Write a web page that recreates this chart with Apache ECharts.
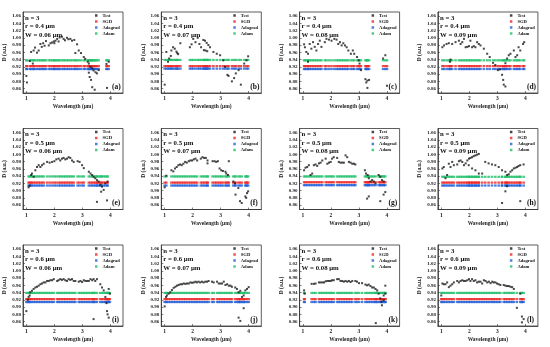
<!DOCTYPE html>
<html><head><meta charset="utf-8">
<script src="https://cdn.jsdelivr.net/npm/echarts@6/dist/echarts.min.js"></script>
<style>html,body{margin:0;padding:0;background:#fff}#c{width:550px;height:347px}</style>
</head><body><div id="c"></div><script>
const panelLabels = ['(a)','(b)','(c)','(d)','(e)','(f)','(g)','(h)','(i)','(j)','(k)','(l)'];
const radii = ['0.4','0.4','0.4','0.4','0.5','0.5','0.5','0.5','0.6','0.6','0.6','0.6'];
const widths = ['0.06','0.07','0.08','0.09','0.06','0.07','0.08','0.09','0.06','0.07','0.08','0.09'];
const yTicks = [0.86,0.88,0.90,0.92,0.94,0.96,0.98,1.00,1.02,1.04,1.06];
const xTicks = [1,2,3,4];
const seriesNames = ['Test','SGD','Adagrad','Adam'];
const sgdLevels = [0.922,0.922,0.922,0.922,0.922,0.922,0.923,0.922,0.922,0.922,0.922,0.922];
const adagradLevels = [0.914,0.915,0.914,0.914,0.914,0.914,0.915,0.914,0.914,0.914,0.914,0.914];
const adamLevels = [0.938,0.939,0.938,0.938,0.939,0.939,0.939,0.938,0.939,0.939,0.939,0.939];

const testA = [[1.00,0.895],[1.02,0.877],[1.12,0.936],[1.17,0.961],[1.23,0.929],[1.26,0.965],[1.31,0.973],[1.38,0.959],[1.44,0.965],[1.50,0.983],[1.55,0.975],[1.60,0.985],[1.65,0.978],[1.70,0.991],[1.80,0.979],[1.86,0.985],[1.92,0.987],[1.98,0.990],[2.00,0.985],[2.04,0.992],[2.10,0.997],[2.15,0.990],[2.19,1.001],[2.27,1.003],[2.33,0.997],[2.38,0.993],[2.45,1.000],[2.50,0.996],[2.57,0.997],[2.63,0.992],[2.71,0.994],[2.81,0.982],[2.75,0.958],[2.87,0.965],[2.95,0.958],[3.05,0.947],[3.10,0.942],[3.19,0.934],[3.23,0.929],[3.29,0.920],[3.35,0.916],[3.23,0.904],[3.26,0.892],[3.31,0.884],[3.35,0.864],[3.40,0.910],[3.44,0.857],[3.47,0.905],[3.52,0.902],[3.58,0.911],[3.88,0.862],[3.86,0.928],[3.94,0.934]];
const testB = [[1.00,0.871],[1.06,0.961],[1.12,0.934],[1.16,0.943],[1.22,0.950],[1.24,0.965],[1.30,0.974],[1.36,0.970],[1.42,0.962],[1.45,0.958],[1.48,0.955],[1.56,0.985],[1.90,0.974],[1.96,0.982],[2.02,0.997],[2.10,0.988],[2.18,1.000],[2.24,0.983],[2.30,0.974],[2.38,0.994],[2.44,0.992],[2.50,0.986],[2.56,0.980],[2.62,0.974],[2.40,0.966],[2.46,0.965],[2.52,0.963],[2.74,0.961],[2.86,0.956],[2.98,0.952],[3.09,0.938],[3.16,0.920],[3.24,0.898],[3.28,0.895],[3.40,0.880],[3.48,0.889],[3.54,0.902],[3.64,0.911],[3.72,0.871],[3.84,0.929],[3.92,0.938],[3.98,0.949]];
const testC = [[1.04,0.982],[1.07,0.974],[1.12,0.961],[1.18,0.956],[1.18,0.934],[1.24,0.983],[1.30,0.970],[1.36,0.988],[1.42,0.975],[1.48,0.965],[1.54,0.983],[1.60,0.992],[1.66,0.975],[1.78,0.988],[1.84,0.997],[1.93,0.995],[2.02,0.992],[2.12,0.997],[2.20,0.995],[2.26,0.983],[2.32,0.988],[2.38,0.979],[2.44,0.985],[2.50,0.979],[2.56,0.974],[2.62,0.965],[2.71,0.956],[2.78,0.965],[2.83,0.956],[2.93,0.947],[2.99,0.938],[3.02,0.929],[3.07,0.911],[3.23,0.886],[3.26,0.877],[3.30,0.882],[3.36,0.884],[3.30,0.862],[3.86,0.943],[3.94,0.952],[4.00,0.868]];
const testD = [[1.04,0.974],[1.10,0.979],[1.19,0.983],[1.27,0.985],[1.33,0.940],[1.31,0.934],[1.39,0.983],[1.51,0.988],[1.63,0.992],[1.69,0.983],[1.75,0.988],[1.81,0.997],[1.87,0.974],[1.93,0.975],[1.99,0.977],[2.04,0.992],[2.10,0.974],[2.16,0.977],[2.22,0.974],[2.28,0.988],[2.34,0.983],[2.40,0.979],[2.52,0.970],[2.64,0.956],[2.73,0.947],[2.85,0.931],[2.93,0.925],[3.02,0.911],[3.09,0.913],[3.17,0.898],[3.21,0.884],[3.23,0.871],[3.29,0.866],[3.29,0.930],[3.35,0.943],[3.41,0.952],[3.47,0.956],[3.59,0.965],[3.65,0.947],[3.71,0.952],[3.76,0.974],[3.82,0.965],[3.92,0.983],[3.96,0.988]];
const testE = [[1.08,0.909],[1.12,0.914],[1.17,0.943],[1.20,0.947],[1.26,0.938],[1.32,0.956],[1.38,0.965],[1.44,0.970],[1.50,0.965],[1.56,0.970],[1.62,0.974],[1.74,0.979],[1.83,0.977],[1.92,0.979],[2.00,0.981],[2.07,0.986],[2.15,0.988],[2.21,0.983],[2.27,0.988],[2.33,0.990],[2.39,0.986],[2.45,0.988],[2.51,0.992],[2.57,0.990],[2.63,0.983],[2.69,0.979],[2.83,0.981],[2.90,0.979],[2.99,0.970],[3.05,0.962],[3.23,0.952],[3.29,0.947],[3.35,0.943],[3.40,0.938],[3.46,0.934],[3.52,0.929],[3.58,0.925],[3.64,0.916],[3.70,0.911],[3.76,0.902],[3.67,0.897],[3.52,0.869],[3.88,0.873],[3.82,0.920],[3.90,0.925]];
const testF = [[1.00,0.909],[1.06,0.941],[1.24,0.956],[1.31,0.953],[1.37,0.961],[1.43,0.965],[1.49,0.970],[1.55,0.972],[1.61,0.970],[1.67,0.974],[1.73,0.979],[1.79,0.977],[1.86,0.981],[1.92,0.983],[1.98,0.983],[2.04,0.986],[2.10,0.988],[2.16,0.983],[2.29,0.988],[2.35,0.992],[2.41,0.990],[2.47,0.990],[2.53,0.983],[2.53,0.975],[2.71,0.981],[2.78,0.981],[2.84,0.979],[2.90,0.981],[2.96,0.961],[3.02,0.956],[3.08,0.954],[3.17,0.952],[3.20,0.947],[3.26,0.943],[3.29,0.981],[3.45,0.925],[3.51,0.920],[3.53,0.889],[3.63,0.907],[3.69,0.871],[3.75,0.866],[3.88,0.884],[3.91,0.880],[3.94,0.893],[3.98,0.898]];
const testG = [[1.04,0.956],[1.09,0.963],[1.15,0.965],[1.21,0.970],[1.27,0.943],[1.33,0.947],[1.39,0.970],[1.45,0.972],[1.51,0.968],[1.57,0.975],[1.63,0.977],[1.69,0.983],[1.81,0.988],[1.87,0.974],[1.93,0.977],[1.99,0.979],[2.04,0.988],[2.10,0.992],[2.22,0.990],[2.28,0.979],[2.34,0.977],[2.40,0.977],[2.46,0.977],[2.52,0.997],[2.58,0.992],[2.64,0.979],[2.70,0.977],[2.76,0.974],[2.82,0.974],[2.87,0.972],[3.21,0.956],[3.25,0.947],[3.31,0.943],[3.35,0.934],[3.41,0.925],[3.47,0.929],[3.53,0.925],[3.59,0.920],[3.70,0.943],[3.76,0.938],[3.82,0.929],[3.88,0.925],[3.29,0.878],[3.35,0.884],[3.76,0.871],[3.88,0.889],[3.94,0.896]];
const testH = [[1.04,0.961],[1.09,0.965],[1.15,0.934],[1.21,0.943],[1.27,0.974],[1.33,0.965],[1.39,0.979],[1.45,0.970],[1.57,0.972],[1.63,0.981],[1.69,0.983],[1.75,0.979],[1.81,0.970],[1.87,0.975],[1.93,0.983],[1.99,0.988],[2.04,0.990],[2.10,0.992],[2.16,0.995],[2.22,0.997],[2.28,0.999],[2.34,1.001],[1.98,0.970],[2.10,0.961],[2.22,0.956],[2.34,0.947],[2.46,0.947],[2.57,0.979],[2.69,0.975],[2.81,0.972],[2.93,0.970],[3.05,0.965],[3.17,0.956],[3.29,0.952],[3.35,0.943],[3.41,0.945],[3.47,0.952],[3.53,0.956],[3.59,0.961],[3.65,0.963],[3.71,0.965],[3.76,0.968],[3.82,0.970],[3.94,0.972],[3.29,0.898],[3.35,0.912],[3.17,0.866],[3.82,0.871]];
const testI = [[1.00,0.889],[1.05,0.920],[1.08,0.928],[1.12,0.932],[1.14,0.941],[1.20,0.945],[1.26,0.950],[1.32,0.954],[1.38,0.956],[1.44,0.959],[1.50,0.963],[1.56,0.965],[1.62,0.968],[1.68,0.968],[1.74,0.972],[1.80,0.972],[1.86,0.974],[1.92,0.974],[1.98,0.977],[2.10,0.972],[2.15,0.974],[2.21,0.977],[2.27,0.975],[2.33,0.977],[2.39,0.974],[2.45,0.972],[2.51,0.977],[2.57,0.975],[2.63,0.977],[2.69,0.972],[2.75,0.972],[2.87,0.970],[2.93,0.972],[2.99,0.969],[3.05,0.974],[3.11,0.972],[3.17,0.972],[3.23,0.972],[3.29,0.977],[3.35,0.974],[3.40,0.977],[3.46,0.972],[3.52,0.977],[3.64,0.963],[3.70,0.954],[3.76,0.946],[3.82,0.928],[3.86,0.911],[3.88,0.889],[3.90,0.880],[3.94,0.871],[3.94,0.950],[3.98,0.937],[3.40,0.867]];
const testJ = [[1.00,0.902],[1.05,0.928],[1.08,0.932],[1.14,0.937],[1.20,0.941],[1.26,0.947],[1.32,0.953],[1.38,0.956],[1.44,0.959],[1.50,0.961],[1.56,0.963],[1.62,0.963],[1.68,0.965],[1.74,0.964],[1.80,0.965],[1.86,0.965],[1.92,0.968],[1.98,0.967],[2.04,0.968],[2.10,0.970],[2.15,0.968],[2.21,0.970],[2.27,0.968],[2.33,0.970],[2.39,0.968],[2.45,0.970],[2.51,0.970],[2.57,0.972],[2.69,0.970],[2.75,0.968],[2.87,0.970],[2.93,0.965],[2.99,0.965],[3.05,0.965],[3.11,0.970],[3.17,0.961],[3.23,0.963],[3.29,0.959],[3.35,0.959],[3.40,0.956],[3.52,0.954],[3.58,0.950],[3.64,0.941],[3.70,0.945],[3.76,0.928],[3.82,0.932],[3.88,0.946],[3.94,0.950],[4.00,0.955],[3.82,0.897],[3.64,0.871],[3.70,0.862]];
const testK = [[1.04,0.946],[1.06,0.937],[1.31,0.964],[1.39,0.964],[1.45,0.965],[1.57,0.968],[1.63,0.968],[1.69,0.968],[1.75,0.968],[1.81,0.971],[1.87,0.972],[1.93,0.972],[1.99,0.972],[2.04,0.974],[2.10,0.974],[2.22,0.977],[2.28,0.977],[2.34,0.972],[2.40,0.972],[2.46,0.970],[2.52,0.972],[2.58,0.970],[2.64,0.972],[2.70,0.969],[2.76,0.972],[2.87,0.972],[2.93,0.970],[3.00,0.966],[3.11,0.966],[3.23,0.962],[3.29,0.960],[3.35,0.962],[3.41,0.958],[3.47,0.954],[3.53,0.954],[3.59,0.950],[3.65,0.946],[3.70,0.937],[3.76,0.924],[3.80,0.915],[3.82,0.905],[3.88,0.919],[3.94,0.937],[3.88,0.932],[3.94,0.959],[3.60,0.856]];
const testL = [[1.00,0.932],[1.04,0.965],[1.09,0.963],[1.15,0.963],[1.21,0.968],[1.27,0.955],[1.33,0.959],[1.39,0.963],[1.45,0.968],[1.57,0.972],[1.63,0.968],[1.69,0.972],[1.75,0.974],[1.81,0.972],[1.87,0.972],[1.93,0.974],[1.99,0.977],[2.04,0.972],[2.10,0.977],[2.16,0.972],[2.22,0.974],[2.28,0.968],[2.34,0.970],[2.40,0.970],[2.46,0.965],[2.52,0.974],[2.58,0.972],[2.64,0.968],[2.70,0.970],[2.76,0.966],[2.82,0.970],[2.87,0.968],[2.93,0.968],[2.99,0.965],[3.05,0.963],[3.11,0.961],[3.23,0.961],[3.29,0.959],[3.35,0.958],[3.41,0.958],[3.47,0.956],[3.53,0.955],[3.59,0.950],[3.82,0.937],[3.70,0.898],[3.88,0.874],[3.94,0.867],[3.88,0.858]];
const testSets = [testA,testB,testC,testD,testE,testF,testG,testH,testI,testJ,testK,testL];

const FONT = "'Liberation Serif','DejaVu Serif',serif";
const COLORS = {Test:'#1a1a1a', SGD:'#ee2424', Adagrad:'#1e5fd8', Adam:'#1fbf6a'};
const GW = 100, GH = 81;
const grids=[], xAxes=[], yAxes=[], series=[], titles=[], legends=[];
for (let i=0;i<12;i++){
  const r = Math.floor(i/4), c = i%4;
  const gl = 23 + c*138.3, gt = 12 + r*116.5;
  grids.push({left:gl, top:gt, width:GW, height:GH, show:true, borderColor:'#333', borderWidth:0.8, containLabel:false});
  xAxes.push({type:'value', gridIndex:i, min:0.88, max:4.45,
    name:'Wavelength (μm)', nameLocation:'middle', nameGap:11,
    nameTextStyle:{fontFamily:FONT, fontWeight:'bold', fontSize:5.5, color:'#222'},
    axisLine:{show:true, lineStyle:{color:'#333', width:0.8}},
    axisTick:{show:true, inside:true, length:2, customValues:xTicks, lineStyle:{color:'#333', width:0.6}},
    axisLabel:{show:true, customValues:xTicks, margin:3, fontFamily:FONT, fontWeight:'bold', fontSize:5.5, color:'#222'},
    splitLine:{show:false}});
  yAxes.push({type:'value', gridIndex:i, min:0.848, max:1.071,
    name:'D (a.u.)', nameLocation:'middle', nameGap:15, nameRotate:90,
    nameTextStyle:{fontFamily:FONT, fontWeight:'bold', fontSize:5.5, color:'#222'},
    axisLine:{show:true, lineStyle:{color:'#333', width:0.8}},
    axisTick:{show:true, inside:true, length:2, customValues:yTicks, lineStyle:{color:'#333', width:0.6}},
    axisLabel:{show:true, customValues:yTicks, margin:2, fontFamily:FONT, fontWeight:'bold', fontSize:5, color:'#222', formatter:v=>v.toFixed(2)},
    splitLine:{show:false}});
  const wl = testSets[i];
  const levels = {SGD:sgdLevels[i], Adagrad:adagradLevels[i], Adam:adamLevels[i]};
  ['Adam','SGD','Adagrad'].forEach(n=>{
    series.push({type:'scatter', name:n, xAxisIndex:i, yAxisIndex:i, symbol:'rect', symbolSize:[2.6,2.2],
      itemStyle:{color:COLORS[n]}, silent:true, z:2,
      data: wl.map(p=>[p[0], levels[n]])});
  });
  series.push({type:'scatter', name:'Test', xAxisIndex:i, yAxisIndex:i, symbol:'rect', symbolSize:2,
    itemStyle:{color:COLORS.Test}, silent:true, z:3, data: wl});
  titles.push({text:'n = 3\nr = ' + radii[i] + ' μm\nW = ' + widths[i] + ' μm', left:gl+2, top:gt+1.5, padding:0,
    textStyle:{fontFamily:FONT, fontWeight:'bold', fontSize:6.8, lineHeight:8.5, color:'#111'}});
  titles.push({text:panelLabels[i], left:gl+GW-11, top:gt+GH-10, padding:0,
    textStyle:{fontFamily:FONT, fontWeight:'bold', fontSize:7.5, color:'#111'}});
  legends.push({data:seriesNames.map(n=>({name:n, icon:'rect', itemStyle:{color:COLORS[n]}})), orient:'vertical', left:gl+72, top:gt+1, padding:0,
    itemWidth:2.5, itemHeight:2.5, itemGap:1, selectedMode:false,
    textStyle:{fontFamily:FONT, fontWeight:'bold', fontSize:4.6, lineHeight:5, color:'#111', padding:[0,0,0,0]}});
}
const chart = echarts.init(document.getElementById('c'), null, {renderer:'canvas'});
chart.setOption({backgroundColor:'#fff', animation:false, title:titles, legend:legends, grid:grids, xAxis:xAxes, yAxis:yAxes, series:series});
</script></body></html>
